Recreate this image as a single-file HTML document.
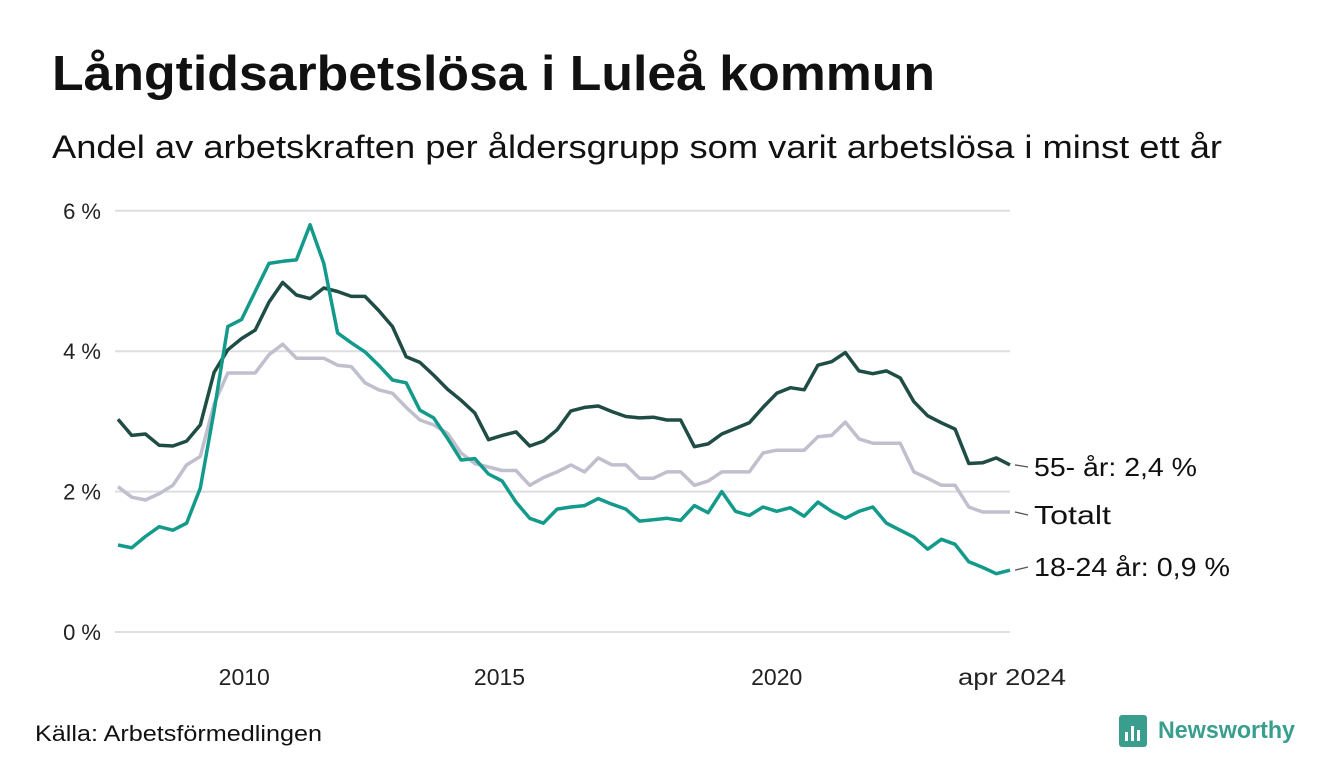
<!DOCTYPE html>
<html><head><meta charset="utf-8"><style>
body{margin:0;background:#fff;font-family:"Liberation Sans",sans-serif;}
#wrap{position:relative;width:1340px;height:780px;overflow:hidden;}
</style></head><body>
<div id="wrap">
<svg id="chart" width="1340" height="780" font-family="Liberation Sans, sans-serif">
<text x="52" y="90" font-size="49" font-weight="bold" fill="#111" textLength="883" lengthAdjust="spacingAndGlyphs">Långtidsarbetslösa i Luleå kommun</text>
<text x="52" y="158" font-size="32" fill="#111" textLength="1170" lengthAdjust="spacingAndGlyphs">Andel av arbetskraften per åldersgrupp som varit arbetslösa i minst ett år</text>
<g id="grid"></g>
<g id="series"></g>
<g id="labels"></g>
<text x="35" y="741" font-size="22" fill="#111" textLength="287" lengthAdjust="spacingAndGlyphs">Källa: Arbetsförmedlingen</text>
<g>
<rect x="1119" y="715" width="28" height="32" rx="3" fill="#3a9e8f"/>
<rect x="1125" y="732" width="3" height="9" fill="#fff"/><rect x="1131" y="726" width="3" height="15" fill="#fff"/><rect x="1137" y="730" width="3" height="11" fill="#fff"/>
<text x="1158" y="738" font-size="24" font-weight="bold" fill="#3a9e8f" textLength="137" lengthAdjust="spacingAndGlyphs">Newsworthy</text>
</g>
</svg>
</div>
<script>
const startYear = 2008; // Jan 2008, quarterly steps to Apr 2024
const stepMonths = 3;
const yTicks = [0, 2, 4, 6];
const yTickLabels = ["0 %", "2 %", "4 %", "6 %"];
const xTicks = [2010.3, 2014.95, 2020];
const xTickLabels = ["2010", "2015", "2020"];
const endLabel = "apr 2024";
const age55 = [3.03,2.80,2.82,2.66,2.65,2.72,2.95,3.70,4.02,4.18,4.30,4.70,4.98,4.80,4.75,4.90,4.85,4.78,4.78,4.58,4.35,3.92,3.84,3.66,3.46,3.30,3.12,2.74,2.80,2.85,2.65,2.72,2.88,3.15,3.20,3.22,3.14,3.07,3.05,3.06,3.02,3.02,2.64,2.68,2.82,2.90,2.98,3.20,3.40,3.48,3.45,3.80,3.85,3.98,3.72,3.68,3.72,3.62,3.28,3.08,2.98,2.89,2.40,2.41,2.48,2.38];
const total = [2.07,1.92,1.88,1.97,2.09,2.38,2.50,3.25,3.69,3.69,3.69,3.95,4.10,3.90,3.90,3.90,3.80,3.78,3.55,3.45,3.40,3.20,3.02,2.95,2.83,2.55,2.40,2.35,2.30,2.30,2.09,2.20,2.28,2.38,2.28,2.48,2.38,2.38,2.19,2.19,2.28,2.28,2.09,2.15,2.28,2.28,2.28,2.55,2.59,2.59,2.59,2.78,2.80,2.99,2.75,2.69,2.69,2.69,2.28,2.19,2.09,2.09,1.78,1.71,1.71,1.71];
const age1824 = [1.24,1.20,1.36,1.50,1.45,1.55,2.05,3.15,4.35,4.45,4.85,5.25,5.28,5.30,5.80,5.25,4.26,4.12,3.99,3.80,3.59,3.55,3.16,3.05,2.76,2.45,2.47,2.25,2.15,1.85,1.62,1.55,1.75,1.78,1.80,1.90,1.82,1.75,1.58,1.60,1.62,1.59,1.80,1.70,2.00,1.72,1.66,1.78,1.72,1.77,1.65,1.85,1.72,1.62,1.72,1.78,1.55,1.45,1.35,1.18,1.32,1.25,1.00,0.92,0.83,0.88];
const seriesNames = ["totalt","55-ar","18-24-ar"];
const seriesLabels = ["Totalt","55- år: 2,4 %","18-24 år: 0,9 %"];

const NS="http://www.w3.org/2000/svg";
const X0=118,X1=1010,Y0=632,PX=70.2;
const endYear = startYear + (age55.length-1)*stepMonths/12;
function xOfYear(yr){return X0+(yr-startYear)/(endYear-startYear)*(X1-X0);}
function xOfIndex(i){return xOfYear(startYear+i*stepMonths/12);}
function yOf(v){return Y0-v*PX;}
function mk(tag,attrs,parent){const e=document.createElementNS(NS,tag);for(const k in attrs)e.setAttribute(k,attrs[k]);parent.appendChild(e);return e;}

const grid=document.getElementById('grid');
yTicks.forEach((t,i)=>{
  const l=mk('line',{x1:115,x2:X1,y1:yOf(t),y2:yOf(t),stroke:'#dddde2','stroke-width':2},grid);
  
  
  const tx=mk('text',{x:101,y:yOf(t)+8,'font-size':22,fill:'#222','text-anchor':'end'},grid);
  tx.textContent=yTickLabels[i];
  
  
});
xTicks.forEach((t,i)=>{
  const tx=mk('text',{x:xOfYear(t),y:685,'font-size':23,fill:'#222','text-anchor':'middle'},grid);
  tx.textContent=xTickLabels[i];
  
  
});
const et=mk('text',{x:X1+2,y:685,'font-size':23,fill:'#222','text-anchor':'middle',textLength:108,lengthAdjust:'spacingAndGlyphs'},grid);
et.textContent=endLabel;



const sg=document.getElementById('series');
const data=[total,age55,age1824];
const colors=['#c0bfcd','#1f4d45','#139a8b'];
data.forEach((arr,s)=>{
  const d=arr.map((v,i)=>(i?'L':'M')+xOfIndex(i).toFixed(1)+','+yOf(v).toFixed(1)).join('');
  const p=mk('path',{d:d,fill:'none',stroke:colors[s],'stroke-width':3.5,'stroke-linejoin':'round'},sg);
  
  
});
const lg=document.getElementById('labels');
const labelY=[515,467,567];
const labelW=[77,163,196];
data.forEach((arr,s)=>{
  const yv=yOf(arr[arr.length-1]);
  const ln=mk('line',{x1:1015,x2:1028,y1:yv,y2:labelY[s],stroke:'#555','stroke-width':1.3},lg);
  
  
  const t=mk('text',{x:1034,y:labelY[s]+9,'font-size':26,fill:'#111',textLength:labelW[s],lengthAdjust:'spacingAndGlyphs'},lg);
  t.textContent=seriesLabels[s];
  
  
});
</script>
</body></html>
